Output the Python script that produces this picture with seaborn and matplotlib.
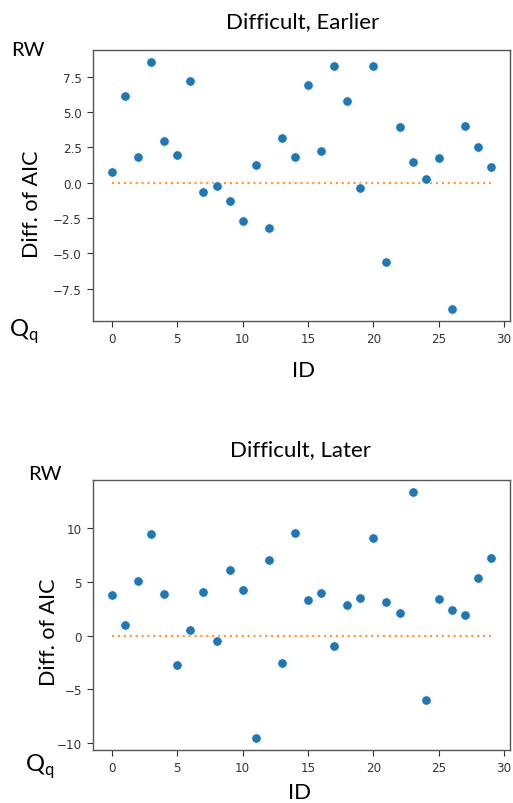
import numpy as np
import pandas as pd
import matplotlib
matplotlib.use("Agg")
import matplotlib.pyplot as plt
import seaborn as sns

# Dados
ids = list(range(30))
aic_earlier = [0.78, 6.13, 1.84, 8.52, 2.97, 1.98, 7.2, -0.64, -0.21, -1.27,
               -2.69, 1.27, -3.2, 3.14, 1.84, 6.94, 2.24, 8.26, 5.8, -0.38,
               8.26, -5.59, 3.92, 1.46, 0.24, 1.73, -8.92, 4.01, 2.53, 1.13]
aic_later = [3.74, 0.99, 5.04, 9.39, 3.86, -2.71, 0.53, 4.07, -0.49, 6.06,
             4.2, -9.47, 6.98, -2.59, 9.48, 3.28, 3.98, -0.95, 2.81, 3.52,
             9.02, 3.15, 2.13, 13.28, -5.93, 3.4, 2.38, 1.92, 5.37, 7.19]
titles = ["Difficult, Earlier", "Difficult, Later"]

label_font = ["Lato", "DejaVu Sans"]
W, H = 513, 804

fig = plt.figure(figsize=(W / 100, H / 100), dpi=100)

# posicoes em pixels: (esquerda, topo, direita, base)
axes_px = [(93, 51, 510, 322), (93, 481, 510, 751)]
# posicoes dos textos extras (RW, Qq, Diff. of AIC, ID)
extra_px = [
    {"rw": (28, 50), "qq": (24, 332), "ylab": (32, 204), "xlab": (304, 371), "title": (303, 22)},
    {"rw": (45, 475), "qq": (40, 767), "ylab": (49, 632), "xlab": (300, 793), "title": (301, 450)},
]

for vals, title, (l, t, r, b), pos in zip([aic_earlier, aic_later], titles, axes_px, extra_px):
    ax = fig.add_axes([l / W, 1 - b / H, (r - l) / W, (b - t) / H])
    df = pd.DataFrame({"ID": ids, "AIC": vals})
    sns.scatterplot(data=df, x="ID", y="AIC", ax=ax, color="#1f77b4",
                    s=46, edgecolor="white", linewidth=0.5, zorder=3)
    sns.lineplot(x=[ids[0], ids[-1]], y=[0, 0], ax=ax, color="#ff9a40",
                 linestyle=":", linewidth=1.6, zorder=2)
    ax.set_xlabel("")
    ax.set_ylabel("")
    ax.set_xticks([0, 5, 10, 15, 20, 25, 30])
    ax.tick_params(labelsize=8.6, colors="#333333", length=4.5, width=0.8)
    for sp in ax.spines.values():
        sp.set_color("#555555")
        sp.set_linewidth(1.0)

    def put(key, txt, **kw):
        x, y = pos[key]
        fig.text(x / W, 1 - y / H, txt, ha="center", va="center",
                 family=label_font, **kw)

    put("title", title, fontsize=16)
    put("rw", "RW", fontsize=14.5)
    put("qq", r"Q$_\mathregular{q}$", fontsize=17)
    put("ylab", "Diff. of AIC", fontsize=15.5, rotation=90)
    put("xlab", "ID", fontsize=16)

fig.savefig("out.png", dpi=100)
